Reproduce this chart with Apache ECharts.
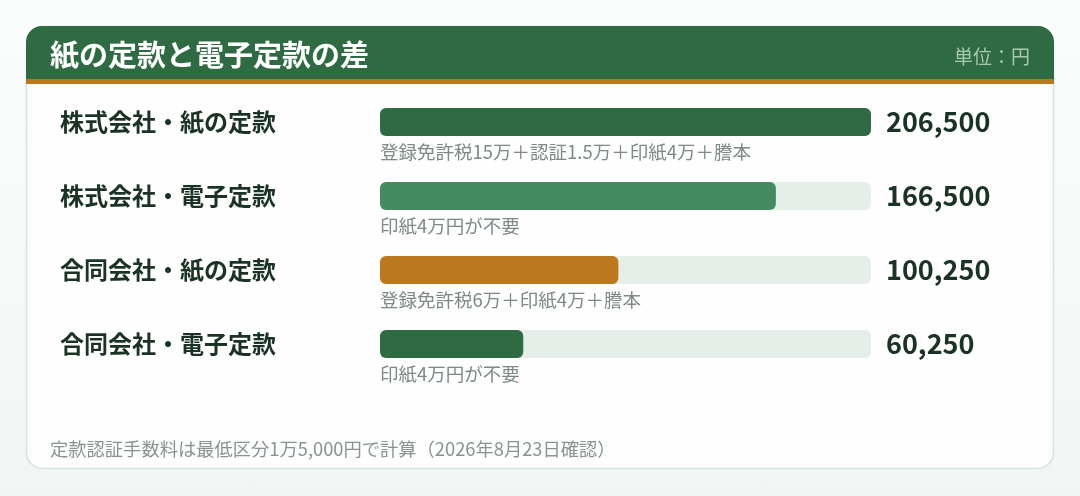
<!DOCTYPE html>
<html>
<head>
<meta charset="utf-8">
<script src="https://cdn.jsdelivr.net/npm/echarts@6/dist/echarts.min.js"></script>
<style>
  html, body { margin: 0; padding: 0; }
  body { background: linear-gradient(180deg, #fbfdfc 0%, #f1f6f4 100%); }
  #main { width: 1080px; height: 496px; }
</style>
</head>
<body>
<div id="main"></div>
<script>
// 定款の種類
var categories = ['株式会社・紙の定款', '株式会社・電子定款', '合同会社・紙の定款', '合同会社・電子定款'];
// 合計費用（円）
var costs = [206500, 166500, 100250, 60250];
// 内訳メモ
var notes = ['登録免許税15万＋認証1.5万＋印紙4万＋謄本', '印紙4万円が不要', '登録免許税6万＋印紙4万＋謄本', '印紙4万円が不要'];
var barColors = ['#2e6b42', '#468b60', '#bd781d', '#2e6b42'];

var font = '"Noto Sans CJK JP", "Noto Sans", sans-serif';

var chart = echarts.init(document.getElementById('main'));

chart.setOption({
    animation: false,
    textStyle: { fontFamily: font },
    graphic: [
        // カード
        {
            type: 'rect', z: -10,
            shape: { x: 26.5, y: 26.5, width: 1027, height: 442, r: 16 },
            style: { fill: '#fdfefd', stroke: '#d3e5d8', lineWidth: 1.5 }
        },
        {
            type: 'rect', z: -9,
            shape: { x: 26, y: 26, width: 1028, height: 53, r: [16, 16, 0, 0] },
            style: { fill: '#2e6b42' }
        },
        {
            type: 'rect', z: -9,
            shape: { x: 26, y: 79, width: 1028, height: 5 },
            style: { fill: '#bd781d' }
        },
        {
            type: 'text',
            style: { x: 50, y: 55, text: '紙の定款と電子定款の差', fill: '#ffffff',
                     font: 'bold 29px ' + font, verticalAlign: 'middle' }
        },
        {
            type: 'text',
            style: { x: 1030, y: 57, text: '単位：円', fill: '#a9c7b1',
                     font: '19px ' + font, align: 'right', verticalAlign: 'middle' }
        },
        {
            type: 'text',
            style: { x: 50, y: 449, text: '定款認証手数料は最低区分1万5,000円で計算（2026年8月23日確認）',
                     fill: '#8a948e', font: '18.3px ' + font, verticalAlign: 'middle' }
        }
    ],
    grid: { left: 380, width: 491, top: 85, height: 296 },
    xAxis: {
        type: 'value', min: 0, max: 206500,
        show: false
    },
    yAxis: [
        {
            type: 'category', data: categories, inverse: true,
            axisLine: { show: false }, axisTick: { show: false },
            axisLabel: {
                margin: 320, align: 'left', color: '#1b3324',
                fontSize: 24, fontWeight: 'bold', fontFamily: font
            }
        },
        {
            type: 'category', data: costs.map(function (v) { return v.toLocaleString('en-US'); }),
            inverse: true, position: 'right',
            axisLine: { show: false }, axisTick: { show: false },
            axisLabel: {
                margin: 15, align: 'left', color: '#1b3324',
                fontSize: 27, fontWeight: 'bold', fontFamily: font
            }
        }
    ],
    series: [{
        type: 'bar',
        barWidth: 28,
        showBackground: true,
        backgroundStyle: { color: '#e6eee9', borderRadius: 6 },
        data: costs.map(function (v, i) {
            return {
                value: v,
                itemStyle: { color: barColors[i], borderRadius: 6 },
                label: { formatter: notes[i] }
            };
        }),
        label: {
            show: true,
            position: [0, 44],
            align: 'left',
            verticalAlign: 'middle',
            color: '#7e8a83',
            fontSize: 18.5,
            fontFamily: font
        }
    }]
});
</script>
</body>
</html>
